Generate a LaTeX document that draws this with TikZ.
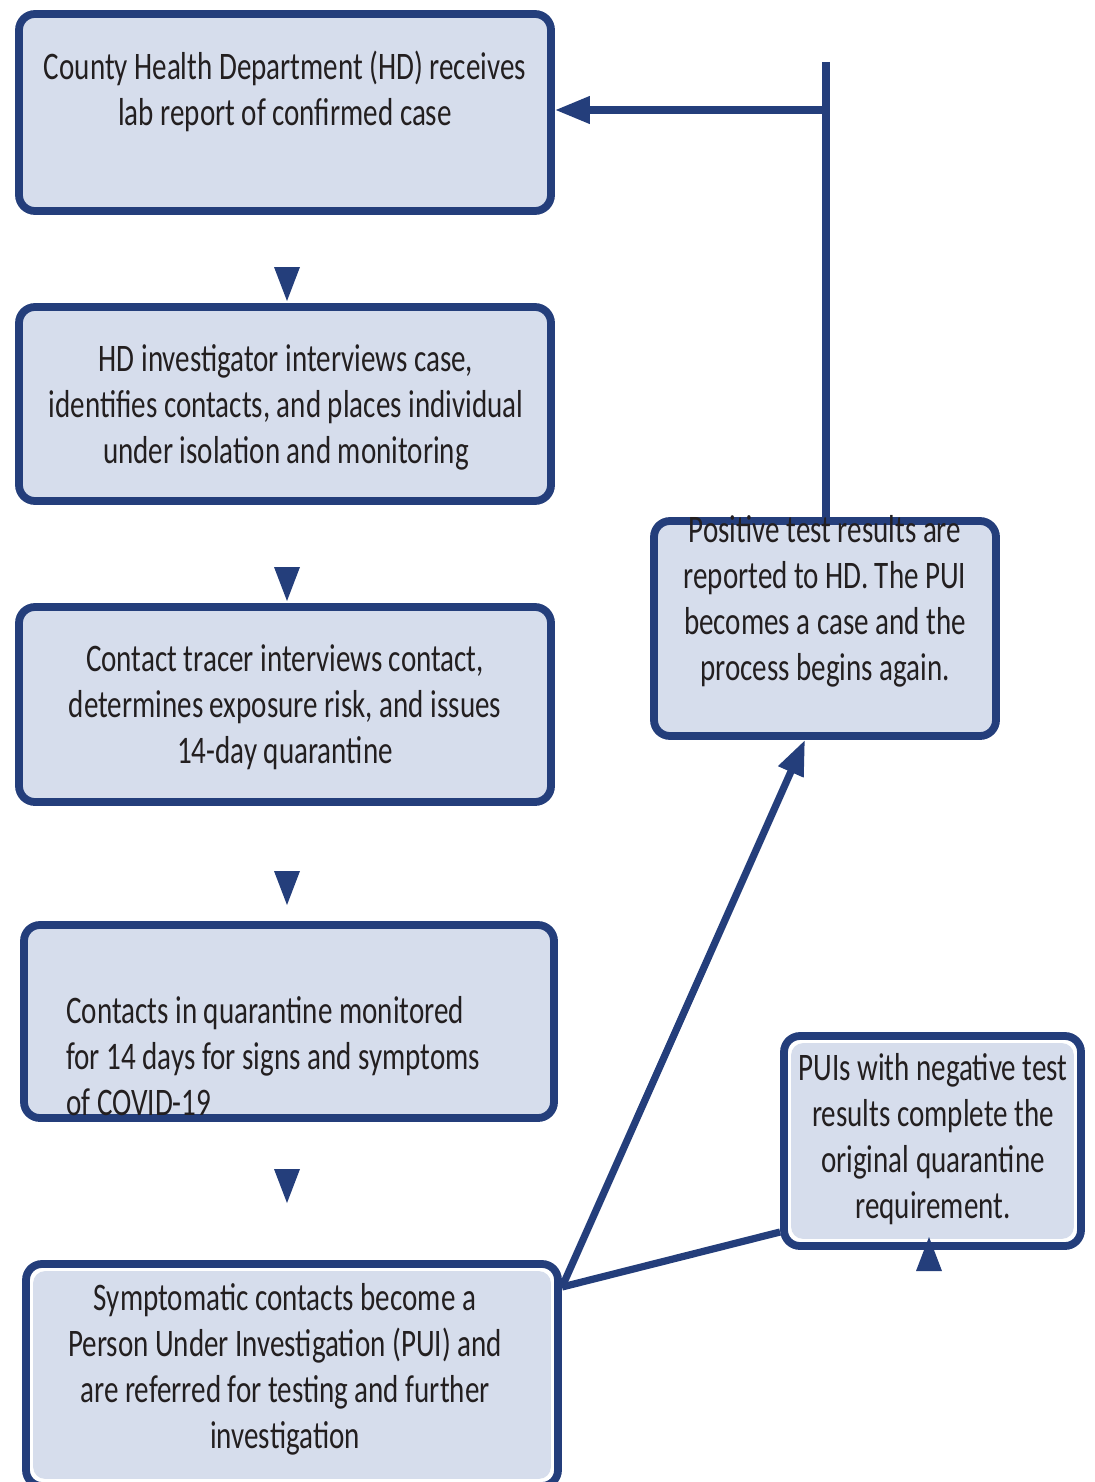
\documentclass[tikz,border=0pt]{standalone}
\usepackage{fontspec}
\setmainfont[FakeStretch=0.745]{Carlito}
\usetikzlibrary{arrows.meta}
\definecolor{navy}{HTML}{243E7B}
\definecolor{boxfill}{HTML}{D6DDEC}
\definecolor{ink}{HTML}{231F20}
\tikzset{
  stepbox/.style={draw=navy, fill=boxfill, line width=3.9pt, rounded corners=8pt, inner sep=0pt},
  ringbox/.style={draw=navy, fill=white, line width=3.9pt, rounded corners=8pt, inner sep=0pt},
  txt/.style={text=ink, align=center, inner sep=0pt, font=\fontsize{19.5}{23}\selectfont},
  link/.style={draw=navy, line width=3.6pt},
  tip/.style={-{Triangle[length=17.5pt,width=13pt]}},
}

\begin{document}
\begin{tikzpicture}[x=0.5pt, y=-0.5pt]
	\useasboundingbox (0,0) rectangle (1094,1482);
	% left column
	\node[stepbox, minimum width=266pt, minimum height=98.5pt] (report) at (285,112.5) {};
	\node[stepbox, minimum width=266pt, minimum height=97pt] (interview) at (285,404) {};
	\node[stepbox, minimum width=266pt, minimum height=97.5pt] (tracer) at (285,704.5) {};
	\node[stepbox, minimum width=265pt, minimum height=96.5pt] (monitor) at (289,1021.5) {};
	\node[ringbox, minimum width=266pt, minimum height=111pt] (refer) at (292,1375) {};
	\fill[boxfill, rounded corners=6pt] ([shift={(11,11)}]refer.north west) rectangle ([shift={(-11,-11)}]refer.south east);
	% right column
	\node[stepbox, minimum width=171pt, minimum height=107.5pt] (positive) at (825,628.5) {};
	\node[ringbox, minimum width=148.5pt, minimum height=105pt] (negative) at (932.5,1141) {};
	\fill[boxfill, rounded corners=6pt] ([shift={(11,11)}]negative.north west) rectangle ([shift={(-11,-11)}]negative.south east);
	% texts
	\node[txt] (reporttxt) at (285,91) {County Health Department (HD) receives\\lab report of confirmed case};
	\node[txt] (interviewtxt) at (286,407) {HD investigator interviews case,\\identifies contacts, and places individual\\under isolation and monitoring};
	\node[txt] (tracertxt) at (285,707) {Contact tracer interviews contact,\\determines exposure risk, and issues\\14-day quarantine};
	\node[txt, align=left, anchor=west] (monitortxt) at (66,1056) {Contacts in quarantine monitored\\for 14 days for signs and symptoms\\of COVID-19};
	\node[txt] (refertxt) at (285,1369) {Symptomatic contacts become a\\Person Under Investigation (PUI) and\\are referred for testing and further\\investigation};
	\node[txt] (positivetxt) at (825,601) {Positive test results are\\reported to HD. The PUI\\becomes a case and the\\process begins again.};
	\node[txt] (negativetxt) at (933,1139) {PUIs with negative test\\results complete the\\original quarantine\\requirement.};
	% triangles between steps
	\foreach \t in {301,601,905,1203} {
		\fill[navy] (274,{\t-34}) -- (300,{\t-34}) -- (287,\t) -- cycle;
	}
	\fill[navy] (916,1271) -- (942,1271) -- (929,1237) -- cycle;
	% connectors
	\coordinate (top) at (826,62);
	\coordinate (tee) at (826,110);
	\coordinate (jn) at (562,1287);
	\draw[link] (top) -- (positive.north -| top);
	\draw[link, tip] (tee) -- (tee -| report.east);
	\draw[link, tip] (jn) -- ([xshift=-10pt]positive.south);
	\draw[link] (jn) -- (negative.west |- 780,1232);
\end{tikzpicture}
\end{document}
